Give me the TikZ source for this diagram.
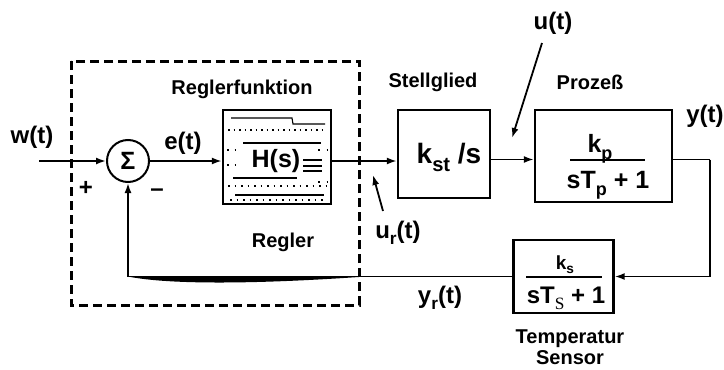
\documentclass[tikz,border=0pt]{standalone}
\usepackage{fontspec}
\setmainfont{Liberation Sans}
\newfontfamily\seriffam{Liberation Serif}
\usetikzlibrary{arrows.meta}
\newcommand{\lowsub}[2][0.3em]{\raisebox{-#1}{\scalebox{0.72}{#2}}}
\begin{document}
\begin{tikzpicture}[x=1pt,y=-1pt,
  lbl/.style={font=\fontsize{24}{24}\selectfont\bfseries, inner sep=0},
  capt/.style={font=\fontsize{20}{20}\selectfont\bfseries, inner sep=0},
  blk/.style={draw, line width=2.4pt, inner sep=0},
  sig/.style={line width=1.8pt, -{Latex[length=10pt,width=7pt]}},
  wire/.style={line width=1.8pt},
  noise/.style={line width=1.1pt}]
\useasboundingbox (0,0) rectangle (724,370);
\fill[white] (0,0) rectangle (724,370);

% dashed controller frame
\draw[line width=3pt, dash pattern=on 9pt off 5pt] (71,61) rectangle (359,305);

% summing junction
\node[draw, circle, line width=2pt, minimum size=42pt, inner sep=0,
      font=\fontsize{25}{25}\selectfont\bfseries] (sum) at (128,161) {Σ};

% blocks
\node[blk, minimum width=108pt, minimum height=94pt] (H) at (277,157) {};
\node[blk, minimum width=92pt, minimum height=88pt] (S) at (444,154) {};
\node[blk, minimum width=137pt, minimum height=92pt] (P) at (603.5,156) {};
\node[blk, minimum width=100pt, minimum height=73pt] (T) at (563.5,276.5) {};

% H(s) block content (noisy scan)
\node[lbl, font=\fontsize{25}{25}\selectfont\bfseries] (Hs) at (276,161) {H(s)};
\draw[noise] (231,118) -- (292,118) -- (293,124) -- (325,124);
\draw[noise] (243,143) -- (321,143);
\draw[noise] (233,178) -- (297,178);
\draw[noise] (235,195) -- (324,195);
\draw[line width=1.6pt] (303,160) -- (322,160) (303,166) -- (322,166) (303,171) -- (322,171);
\draw[noise, dash pattern=on 1.5pt off 4pt] (228,130) -- (326,130);
\draw[noise, dash pattern=on 1.5pt off 6pt] (227,150) -- (240,150) (227,165) -- (238,165);
\draw[noise, dash pattern=on 1.5pt off 5pt] (228,186) -- (326,186);
\draw[noise, dash pattern=on 1.5pt off 5pt] (230,200) -- (326,200);
\draw[noise, dash pattern=on 1.5pt off 7pt] (318,150) -- (327,150) (318,182) -- (327,182);

% block texts
\node[font=\fontsize{28}{28}\selectfont\bfseries, anchor=base, inner sep=0] (kst) at (449,163) {k\lowsub[0.32em]{st} /s};
\node[font=\fontsize{25}{25}\selectfont\bfseries, anchor=base, inner sep=0] (kp) at (600,152) {k\lowsub[0.28em]{p}};
\draw[line width=2pt] (570,159.5) -- (645,159.5);
\node[font=\fontsize{25}{25}\selectfont\bfseries, anchor=base, inner sep=0] (den1) at (608,188) {sT\lowsub[0.3em]{p} + 1};
\node[font=\fontsize{19}{19}\selectfont\bfseries, anchor=base, inner sep=0] (ks) at (565,269.5) {k\lowsub[0.2em]{s}};
\draw[line width=2pt] (526,276.5) -- (601.5,276.5);
\node[font=\fontsize{24}{24}\selectfont\bfseries, anchor=base, inner sep=0] (den2) at (566,303) {sT\lowsub[0.28em]{\seriffam\mdseries S} + 1};

% captions
\node[capt] (rf) at (242,89) {Reglerfunktion};
\node[capt] (rg) at (283,242) {Regler};
\node[capt] (st) at (433,82) {Stellglied};
\node[capt] (pz) at (590,82) {Prozeß};
\node[capt, align=center, font=\fontsize{20}{21}\selectfont\bfseries] (ts) at (570,347) {Temperatur\\Sensor};

% signal labels
\node[lbl] (w) at (32,137) {w(t)};
\node[lbl] (e) at (183,143) {e(t)};
\node[lbl] (u) at (553,23) {u(t)};
\node[lbl] (y) at (705,116) {y(t)};
\node[lbl] (ur) at (398,233) {u\lowsub[0.25em]{r}(t)};
\node[lbl] (yr) at (440,298) {y\lowsub[0.25em]{r}(t)};
\node[font=\fontsize{24}{24}\selectfont\bfseries, inner sep=0] (plus) at (86,188) {+};
\node[font=\fontsize{24}{24}\selectfont\bfseries, inner sep=0] (minus) at (157,193) {\textendash};

% connectors
\coordinate (win) at (39,161);
\draw[sig] (win) -- (sum.west);
\draw[sig] (sum.east) -- (H.west |- sum);
\draw[sig] (H.east |- sum) -- (S.west |- sum);
\draw[sig] (S.east |- 0,159.5) -- (P.west |- 0,159.5);
\coordinate (yc) at (710,159.5);
\draw[wire] (P.east |- yc) -- (yc);
\draw[sig] (yc) |- (T.east);
\draw[sig] (T.west) -| (sum.south);
% thick smear on the feedback line
\fill (128,276.5) .. controls (170,285) and (260,284) .. (366,276.5) -- cycle;

% disturbance and u_r pointers
\coordinate (ut0) at (542,43);
\coordinate (ut1) at (512,138);
\draw[sig] (ut0) -- (ut1);
\coordinate (ur0) at (383,211);
\coordinate (ur1) at (373,175);
\draw[sig] (ur0) -- (ur1);
\end{tikzpicture}
\end{document}
